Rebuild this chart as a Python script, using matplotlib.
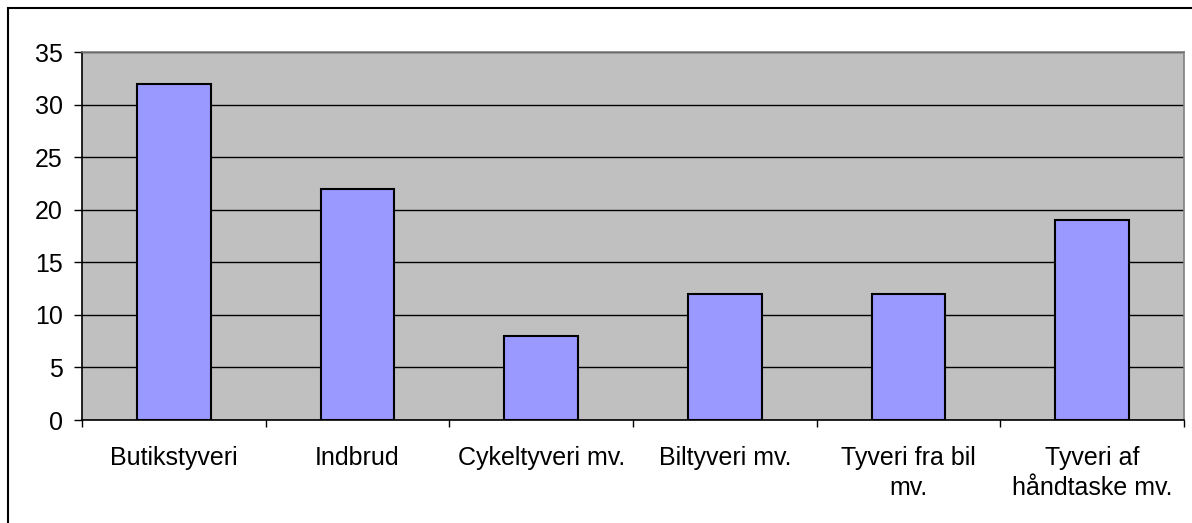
import numpy as np
import matplotlib as mpl
mpl.use('Agg')
import matplotlib.pyplot as plt
from matplotlib.patches import Rectangle

categories = ['Butikstyveri', 'Indbrud', 'Cykeltyveri mv.', 'Biltyveri mv.',
              'Tyveri fra bil\nmv.', 'Tyveri af\nhåndtaske mv.']
values = [32, 22, 8, 12, 12, 19]
yticks = [0, 5, 10, 15, 20, 25, 30, 35]

plt.rcParams['font.family'] = ['Liberation Sans', 'DejaVu Sans']

fig = plt.figure(figsize=(11.92, 5.23), dpi=100)
W, H = 1192, 523
ax = fig.add_axes([82 / W, 1 - 420 / H, (1184 - 82) / W, (420 - 52) / H])

# outer chart border (only top/left visible in the frame)
fig.patches.append(Rectangle((8 / W, -0.1), 1.2, 1 - 8 / H + 0.1,
                             transform=fig.transFigure, fill=False,
                             edgecolor='black', linewidth=1.5))

ax.set_facecolor('#C0C0C0')
x = np.arange(len(categories))
ax.bar(x, values, width=0.4, color='#9999FF', edgecolor='black',
       linewidth=1.5, zorder=3)

ax.set_xlim(-0.5, len(categories) - 0.5)
ax.set_ylim(0, 35)
ax.set_yticks(yticks)
ax.yaxis.grid(True, color='black', linewidth=1, zorder=1)
ax.set_axisbelow(True)

ax.set_xticks(x)
ax.set_xticklabels(categories, fontsize=18, linespacing=1.35)
ax.set_xticks(np.arange(-0.5, len(categories)), minor=True)
ax.tick_params(axis='x', which='major', length=0, pad=18.5)
ax.tick_params(axis='x', which='minor', length=5, width=1, color='black')
ax.tick_params(axis='y', length=5.8, width=1, labelsize=18, pad=8)

ax.spines['left'].set_color('black')
ax.spines['bottom'].set_color('black')
ax.spines['top'].set_color('#808080')
ax.spines['right'].set_color('#808080')
for s in ax.spines.values():
    s.set_linewidth(1.2)

fig.savefig('out.png', dpi=100)
